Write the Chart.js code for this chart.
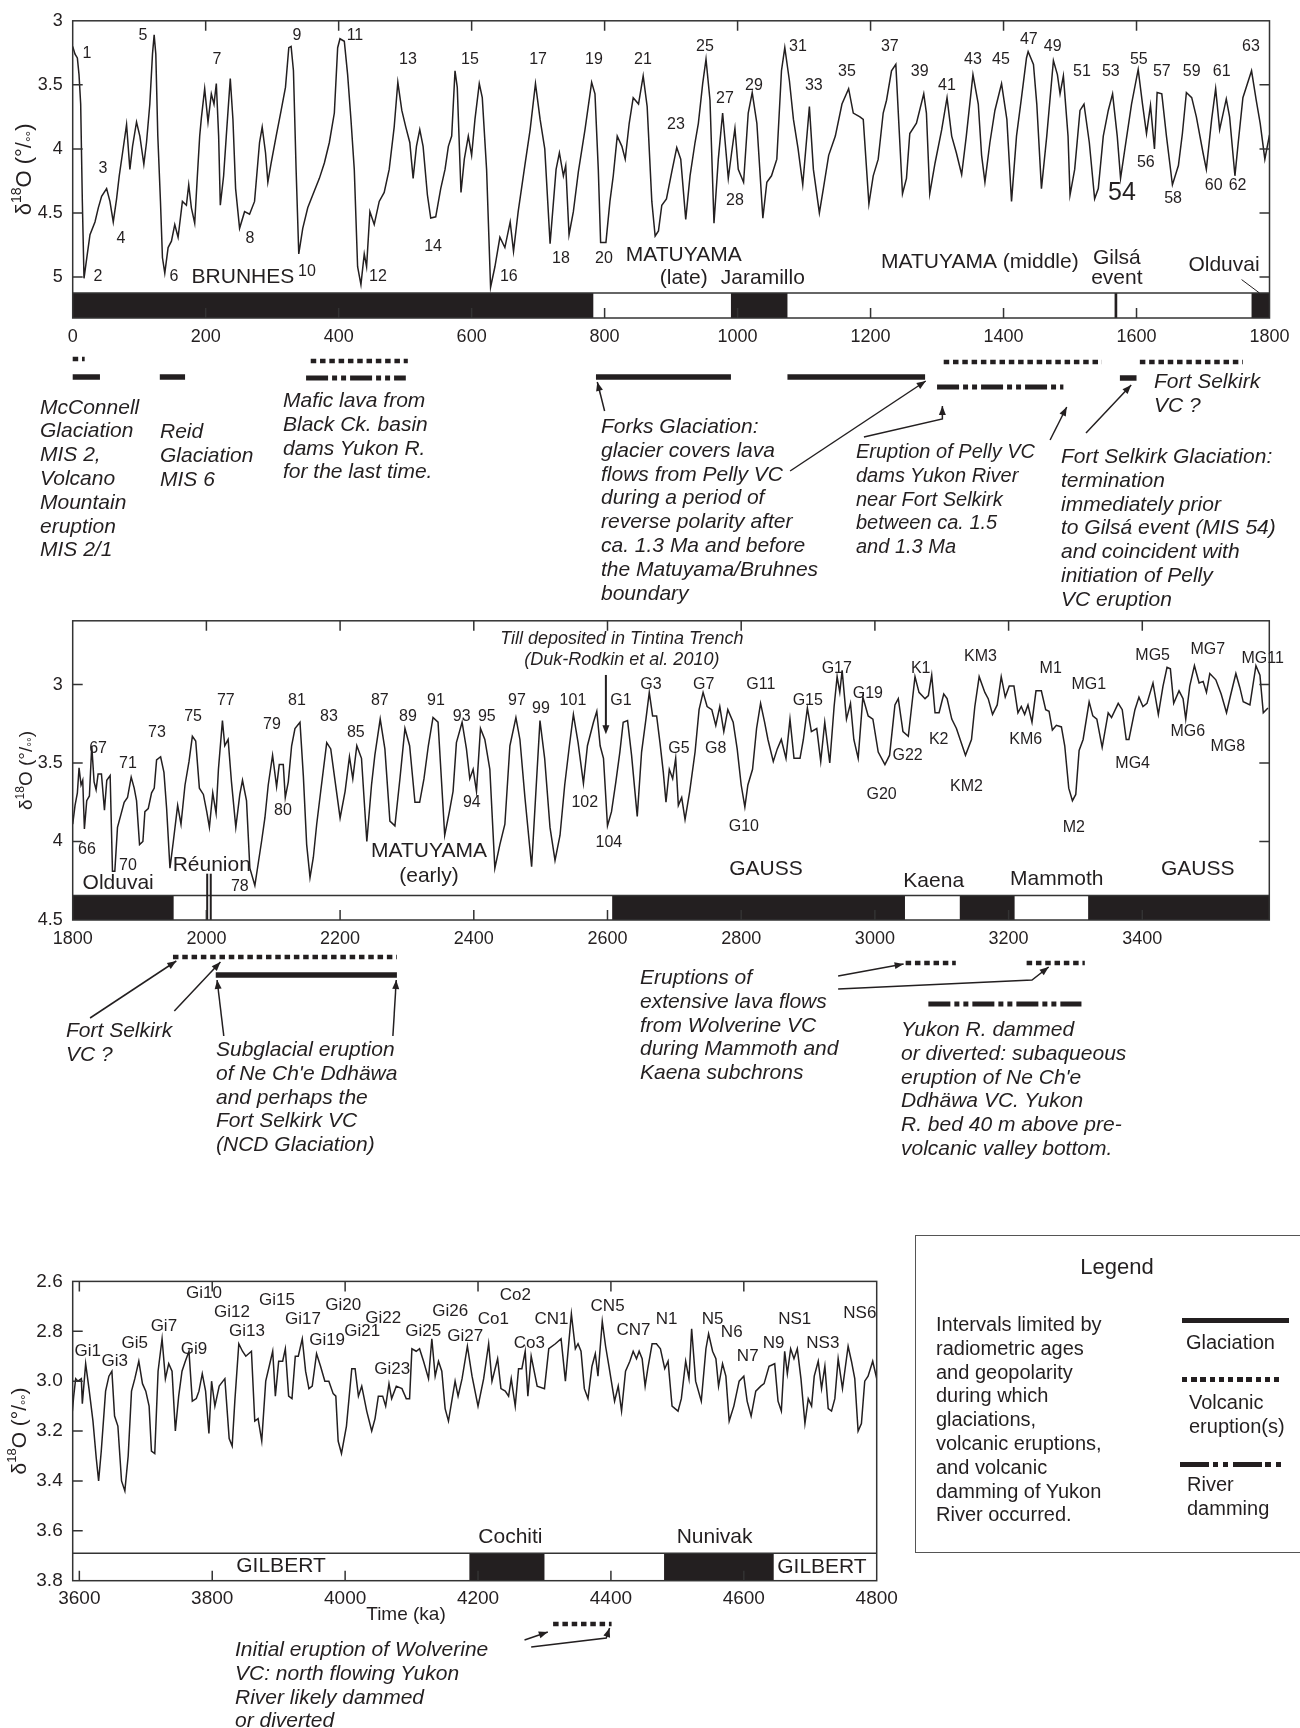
<!DOCTYPE html>
<html>
<head>
<meta charset="utf-8">
<title>δ18O stack with Yukon glaciations, eruptions and river damming</title>
<script src="https://cdn.jsdelivr.net/npm/chart.js@4.4.1/dist/chart.umd.min.js"></script>
<style>
  html, body { margin: 0; padding: 0; background: #fff; }
  #page { position: relative; width: 1300px; height: 1728px; overflow: hidden; font-family: "Liberation Sans", Arial, sans-serif; color: #231f20; }
  canvas { position: absolute; left: 0; }
  .note { position: absolute; font-style: italic; font-size: 21px; line-height: 23.8px; white-space: nowrap; }
  #legend { position: absolute; left: 915px; top: 1235px; width: 404px; height: 318px; border: 1.5px solid #555; box-sizing: border-box; font-size: 20px; line-height: 23.8px; }
  #legend div { position: absolute; white-space: nowrap; }
  .lg-title { left: 0; width: 402px; top: 19px; text-align: center; font-size: 22px; line-height: 24px; }
  .glac { height: 5px; background: #231f20; }
  .volc { height: 4.5px; background: repeating-linear-gradient(to right, #231f20 0 5.5px, transparent 5.5px 9.2px); }
  .dam { height: 5px; background: repeating-linear-gradient(to right, #231f20 0 29px, transparent 29px 33px, #231f20 33px 38px, transparent 38px 43px, #231f20 43px 48px, transparent 48px 52.5px); }
</style>
</head>
<body>
<div id="page">
  <canvas id="c1" width="1300" height="600" style="top:0"></canvas>
  <canvas id="c2" width="1300" height="500" style="top:600px"></canvas>
  <canvas id="c3" width="1300" height="468" style="top:1260px"></canvas>
  <div id="legend">
    <div class="lg-title">Legend</div>
    <div style="left:20px; top:77px">Intervals limited by<br>radiometric ages<br>and geopolarity<br>during which<br>glaciations,<br>volcanic eruptions,<br>and volcanic<br>damming of Yukon<br>River occurred.</div>
    <div class="glac" style="left:266px; top:82px; width:107px"></div>
    <div style="left:270px; top:95px">Glaciation</div>
    <div class="volc" style="left:266px; top:141px; width:99px"></div>
    <div style="left:273px; top:155px">Volcanic<br>eruption(s)</div>
    <div class="dam" style="left:264px; top:226px; width:101px"></div>
    <div style="left:271px; top:237px">River<br>damming</div>
  </div>
</div>
<script>
// ---- data: age (ka) and benthic δ18O (‰) ----
const p1Age = [0,3.5,7,9.5,12,14.5,17,22,26,33.5,38.5,43.5,51,56,61,66,70,75,81,86,90,96,101,107,111,116,120,122.5,125,128,132,135,138.5,143.5,148.5,153.5,158.5,165,171,174.5,178.5,183.5,187.5,191,193.5,198.5,203.5,208.5,212.5,216,219.5,222,227,231,237,241,245,251,258.5,266,273.5,281,285,290,293.5,298.5,306,313.5,320,325,328.5,332,336,340,346,353.5,361,371,378.5,386,393.5,398.5,402,408.5,413.5,418.5,423.5,428.5,433.5,438.5,442,447,453.5,461,468.5,476,483.5,489,495,501,507,512,517,522,527,533.5,538.5,546,553.5,560,565,570,575,578.4,584,589,595,600,605,611.5,616,622.5,628.5,635,642.5,650,658,663,670,680,688,696,703,710,718,727,732,738,741.5,746.5,753,760.5,770.5,780.5,785.5,790.5,794,802,808,813,819,826,831,837,843,851,858,864,871,876,881,886,893,901,908.5,914.5,922,928.5,936,941,947.5,952.5,958.5,964.5,971,977.5,986,991,996,1001,1009,1016,1022,1029,1038,1044,1051,1059,1066,1071,1078,1084,1091,1098,1108,1114,1123,1129,1137,1147,1157,1167,1174,1184,1189,1197.5,1204,1211.5,1219,1224,1231.5,1238,1243,1248,1254,1259,1269,1280,1284,1289,1297,1307,1315,1322,1329,1337,1344,1354,1362,1367,1372,1379.5,1387,1397,1405,1412,1419.5,1427,1434.5,1437,1445,1450,1457,1465,1475,1481,1485,1490,1497,1500,1507,1515,1521,1529,1537,1542.5,1550,1557.5,1564,1571,1576,1582.5,1592.5,1602.5,1609,1615,1621,1627,1631,1638,1645,1654,1663,1669,1675,1683,1690,1700,1705,1713,1719,1725,1735,1740,1748,1753,1760,1773,1780,1786,1793,1800];
const p1D18O = [3.20,3.26,3.29,3.42,3.65,4.41,5.01,4.82,4.67,4.57,4.46,4.37,4.31,4.41,4.57,4.39,4.21,4.03,3.81,4.16,3.98,3.79,3.90,4.12,3.95,3.65,3.26,3.11,3.26,3.90,4.41,4.85,4.97,4.77,4.72,4.59,4.69,4.41,4.44,4.28,4.46,4.58,4.21,3.90,3.76,3.53,3.79,3.57,3.65,3.49,3.90,4.44,4.21,3.90,3.45,3.77,4.31,4.62,4.49,4.51,4.41,3.95,3.83,4.03,4.26,4.11,3.90,3.70,3.52,3.21,3.20,3.39,4.16,4.82,4.62,4.46,4.36,4.23,4.11,3.95,3.72,3.21,3.14,3.16,3.42,3.77,4.16,4.92,5.06,4.82,4.92,4.49,4.59,4.41,4.34,4.16,3.83,3.48,3.70,3.83,3.95,4.23,3.98,3.85,3.98,4.36,4.54,4.53,4.31,4.16,3.98,3.90,3.39,3.52,4.34,4.08,3.90,4.05,3.77,3.49,3.60,4.16,5.08,4.92,4.69,4.77,4.57,4.80,4.49,4.13,3.85,3.49,3.77,4.00,4.74,4.16,4.03,4.21,4.13,4.67,4.49,4.18,3.85,3.48,3.57,4.16,4.73,4.73,4.41,4.21,3.90,3.98,4.08,3.80,3.60,3.65,3.43,3.67,4.41,4.68,4.64,4.44,4.39,4.18,3.99,4.08,4.55,4.21,3.95,3.80,3.49,3.30,3.62,4.58,4.08,3.72,4.23,4.03,3.84,4.16,4.26,3.72,3.56,3.80,4.54,4.26,4.21,4.08,3.39,3.21,3.47,3.77,4.00,4.28,3.67,4.16,4.50,4.31,4.05,3.90,3.65,3.53,3.72,3.75,3.77,4.43,4.21,4.08,3.72,3.62,3.39,3.34,3.85,4.35,4.23,3.88,3.80,3.57,3.72,4.35,4.11,3.85,3.60,3.90,4.03,4.20,3.90,3.42,3.65,4.05,4.26,3.95,3.70,3.49,3.77,4.41,3.90,3.60,3.29,3.24,3.34,3.65,4.31,3.90,3.31,3.42,3.57,3.43,3.90,4.36,4.16,3.70,3.65,3.95,4.39,4.31,3.90,3.70,3.57,3.90,4.23,4.00,3.65,3.38,3.65,3.88,3.66,4.00,3.56,3.57,3.90,4.28,4.13,3.88,3.56,3.60,3.75,4.03,4.16,3.77,3.53,3.85,3.61,3.75,4.21,3.95,3.60,3.39,3.62,3.80,4.08,3.89];

const p2Age = [1800,1803.5,1807,1809.5,1812.5,1815,1817.5,1821,1825,1828.5,1832,1835,1838,1843,1847.5,1851,1856,1859.5,1863,1867,1872,1877,1882,1887.5,1892,1895.5,1900,1905,1908,1913,1918,1922,1925.5,1931.5,1936.5,1940.5,1945.5,1950.5,1957,1962,1968,1974,1979,1984,1989.5,1995.5,2000.5,2004.5,2009.5,2014.5,2018,2024,2027.5,2032.5,2037.5,2044,2050,2054,2060,2065,2072.5,2077.5,2082.5,2087.5,2092.5,2099,2105,2109,2115,2118,2122.5,2127.5,2132.5,2140,2145,2150,2155,2160,2165,2171,2180,2186,2192,2200,2207.5,2214,2219,2225,2232,2240,2247,2252,2260,2267,2274.5,2282,2289.5,2297,2304,2312,2319,2325.5,2332,2339,2346.5,2356.5,2363.5,2369,2374,2382.5,2389,2394,2399,2404,2410,2416.5,2424,2431.5,2439,2446.5,2454,2463,2469,2476.5,2486.5,2494,2499,2506,2514,2521.5,2529,2536,2543,2549,2556,2564,2570,2579,2584,2589,2594,2600,2606,2612.5,2618.5,2623.5,2630,2636,2644.5,2651,2657.5,2662.5,2667.5,2673.5,2678.5,2683.5,2687.5,2692.5,2697.5,2702,2706,2711,2716,2723,2731,2737,2743,2749,2756,2762,2768,2774,2780,2788,2794,2800,2805.5,2810,2817,2823,2829,2835,2840,2848,2854,2860,2867,2873,2879,2888,2893,2899,2905,2913,2919,2925,2932.5,2939,2943.5,2947.5,2951,2957.5,2963.5,2968.5,2975,2982,2990,2997,3005,3015,3022,3030,3035,3042,3050,3055,3060,3066,3075,3080,3085,3090,3096,3103,3108,3115,3122,3135.5,3144.5,3149.5,3156,3164.5,3169.5,3176,3183,3189,3195,3201,3208,3214,3219,3224,3229,3235,3241,3249,3255.5,3260.5,3265.5,3271.5,3279,3284,3290,3295.5,3300.5,3305.5,3311.5,3320.5,3326,3332,3340,3349,3354,3364,3370,3376,3380,3389,3395,3401,3407,3416,3424,3431,3437,3442,3447,3455,3461,3465,3471,3478,3485,3491,3496,3501,3510,3518,3526,3532,3540,3546,3551,3561,3570,3576,3581,3588];
const p2D18O = [3.89,3.77,3.69,3.53,3.64,3.61,3.92,3.74,3.71,3.39,3.62,3.67,3.57,3.57,3.80,3.61,3.58,4.19,4.19,3.91,3.83,3.75,3.72,3.59,3.66,3.74,4.02,4.00,3.81,3.79,3.69,3.66,3.48,3.46,3.56,3.79,4.17,4.00,3.77,3.89,3.64,3.49,3.33,3.36,3.66,3.70,3.81,3.91,3.69,3.82,3.54,3.23,3.39,3.35,3.62,3.91,3.70,3.61,3.74,4.17,4.28,4.14,4.00,3.85,3.64,3.45,3.65,3.51,3.51,3.72,3.62,3.39,3.28,3.24,3.58,4.02,4.23,4.10,3.89,3.68,3.37,3.41,3.60,3.85,3.68,3.46,3.60,3.39,3.47,4.00,3.64,3.45,3.22,3.41,3.87,3.90,3.60,3.28,3.39,3.75,3.75,3.60,3.39,3.21,3.24,3.96,3.81,3.68,3.37,3.24,3.41,3.60,3.54,3.68,3.28,3.35,3.54,4.17,4.02,3.89,3.39,3.21,3.35,3.72,4.16,3.60,3.23,3.47,3.91,4.12,3.96,3.64,3.39,3.19,3.37,3.63,3.39,3.24,3.17,3.39,3.47,3.90,3.81,3.62,3.43,3.24,3.23,3.45,3.84,3.43,3.22,3.05,3.20,3.20,3.37,3.56,3.75,3.54,3.60,3.47,3.77,3.72,3.86,3.68,3.43,3.16,3.05,3.14,3.16,3.26,3.14,3.30,3.16,3.24,3.41,3.64,3.78,3.64,3.54,3.28,3.12,3.24,3.35,3.49,3.41,3.35,3.47,3.22,3.47,3.47,3.35,3.15,3.30,3.28,3.49,3.24,3.50,3.14,2.95,3.05,2.91,3.22,3.12,3.35,3.47,3.08,3.20,3.22,3.43,3.51,3.45,3.13,3.09,3.30,3.33,3.14,2.95,3.05,3.09,3.07,2.94,3.18,3.18,3.06,3.09,3.22,3.28,3.45,3.35,3.14,2.95,3.05,3.09,3.19,3.13,2.95,3.08,3.01,3.01,3.18,3.14,3.19,3.13,3.24,3.04,3.04,3.16,3.17,3.29,3.26,3.27,3.39,3.66,3.74,3.70,3.42,3.35,3.11,3.20,3.22,3.40,3.18,3.21,3.12,3.16,3.35,3.35,3.16,3.08,3.14,3.12,2.99,3.19,3.01,2.89,2.90,3.12,3.04,3.09,3.22,3.01,2.88,2.99,2.98,3.05,2.93,2.97,3.06,3.18,3.07,2.93,3.02,3.11,3.13,2.88,2.94,3.18,3.15];

const p3Age = [3589.5,3591.5,3594.5,3598,3603,3604.5,3609.5,3614.5,3620.5,3625.5,3629,3633,3639.5,3644.5,3649,3653,3658,3663.5,3668.5,3673.5,3678.5,3683.5,3689.5,3695,3700,3705,3708.5,3713.5,3718.5,3724.5,3729.5,3734.5,3739.5,3744.5,3749.5,3754.5,3759.5,3765,3770,3776,3780,3785,3790,3795,3799,3804,3810.5,3819,3825.5,3830,3834,3840,3845.5,3850.5,3859,3864,3869,3874.5,3880.5,3891,3895,3900,3906,3910,3915,3920,3925,3929.5,3935.5,3940.5,3945.5,3950.5,3957,3963,3969.5,3975.5,3982,3986,3989.5,3994.5,4002,4010,4015,4020,4025,4032.5,4040,4045,4050,4056.5,4061,4066,4070,4077,4085.5,4092,4097,4100.5,4107,4112,4118,4125.5,4130.5,4135.5,4140.5,4145.5,4150.5,4155.5,4165.5,4170,4176,4184,4191,4200,4208.5,4216,4221,4229.5,4234.5,4241,4246,4250,4256,4261,4266,4271,4275,4280,4289,4300,4306.5,4316.5,4325,4331.5,4340.5,4346.5,4350.5,4355,4360,4365.5,4371.5,4376.5,4380.5,4387,4392,4397,4405.5,4411,4416,4422,4428.5,4433.5,4438.5,4442.5,4447,4451.5,4455.5,4462,4468.5,4474.5,4481,4486,4492,4501,4506,4512.5,4517.5,4521.5,4527.5,4536,4543,4547,4553,4558,4562,4568,4573,4578,4585,4593,4600,4605,4611,4618,4625.5,4630.5,4638,4646.5,4651.5,4656.5,4661.5,4665.5,4670.5,4675.5,4680.5,4686,4692,4697,4702,4706,4712,4717,4722,4727,4732,4737,4742,4748.5,4757,4762,4767,4772,4777,4782,4787,4794,4800];
const p3D18O = [3.12,3.06,2.99,3.00,2.99,3.09,2.93,3.03,3.16,3.31,3.40,3.28,3.04,2.98,2.96,3.14,3.18,3.40,3.44,3.30,3.04,2.99,2.92,3.01,3.04,3.10,3.28,3.29,2.96,2.83,2.99,2.93,2.96,3.20,3.06,2.96,2.92,2.88,3.08,3.07,3.04,2.97,3.04,3.21,3.00,3.10,3.02,2.99,3.23,3.26,3.08,2.85,2.88,2.90,2.88,3.16,3.15,3.24,3.00,2.88,3.06,2.92,2.92,2.87,3.06,3.07,2.90,2.90,2.83,2.96,3.03,3.02,2.89,2.94,3.00,3.00,3.05,3.06,3.24,3.29,3.18,2.95,2.95,3.06,3.02,3.12,3.20,3.15,3.06,3.06,3.10,3.01,3.07,3.02,3.03,3.07,3.07,2.87,2.88,2.87,2.92,2.99,2.83,2.98,2.92,2.96,3.11,3.16,3.00,3.06,2.99,2.86,2.98,3.10,2.99,2.85,3.00,2.91,3.03,3.04,3.06,2.99,3.10,2.95,2.95,2.88,3.06,2.90,3.02,3.03,2.87,2.85,2.83,3.00,2.73,2.87,2.85,2.88,3.03,3.07,2.94,2.89,2.98,2.76,2.86,2.94,3.08,3.02,3.12,2.96,2.92,2.88,2.91,2.88,2.91,3.02,2.95,2.85,2.85,2.87,2.95,2.92,3.10,3.12,3.07,2.92,2.99,2.79,3.00,3.08,2.87,2.81,2.88,2.91,3.02,2.93,2.98,3.16,3.10,3.00,2.98,3.08,3.14,3.04,3.02,3.01,2.94,2.93,3.08,3.12,2.88,2.97,2.87,2.91,2.87,2.99,3.17,3.07,3.10,2.98,2.92,3.03,2.94,3.11,3.12,3.07,2.91,3.03,2.86,2.92,2.99,3.20,3.17,3.00,2.98,2.92,2.99];

// normal-polarity (black) intervals, ka
const p1Normal = [[0, 783], [990, 1075], [1567, 1571], [1773, 1800]];
const p2Normal = [[1800, 1951], [2607, 3045], [3127, 3209], [3319, 3590]];
const p2Reunion = [2001.2, 2006.5];
const p3Normal = [[4187, 4300], [4480, 4645]];

// glaciation / eruption / damming intervals: [kind, from ka, to ka]
const p1Events = [['volc', 0, 18], ['glac', 0, 41], ['glac', 131, 169], ['volc', 358, 504], ['dam', 351, 501],
  ['glac', 787, 990], ['glac', 1075, 1282], ['volc', 1310, 1548], ['dam', 1300, 1490], ['glac', 1575, 1600], ['volc', 1605, 1760]];
const p2Events = [['volc', 1950, 2285], ['glac', 2014, 2285], ['volc', 3046, 3121], ['volc', 3227, 3314], ['dam', 3080, 3309]];
const p3Events = [['volc', 4313, 4401]];

// stage labels: [text, ka, δ18O]
const p1Stages = [['1',21.5,3.255],['2',38,5.0],['3',45.6,4.15],['4',72.6,4.70],['5',105.7,3.117],['6',152.3,5.0],['7',217,3.30],['8',266.6,4.70],['9',337.3,3.117],['10',352.3,4.96],['11',424.5,3.117],['12',459,5.0],['13',504.2,3.30],['14',542,4.765],['15',597.4,3.30],['16',656,5.0],['17',700,3.30],['18',734.3,4.857],['19',784,3.30],['20',799,4.857],['21',857.6,3.30],['23',907.2,3.807],['25',951,3.20],['27',981,3.608],['28',996,4.405],['29',1024.5,3.508],['31',1090.7,3.20],['33',1114.7,3.508],['35',1164.4,3.40],['37',1229,3.20],['39',1274,3.40],['41',1314.8,3.508],['43',1354,3.30],['45',1396,3.30],['47',1438,3.148],['49',1474,3.20],['51',1518,3.40],['53',1561.4,3.40],['55',1603.5,3.30],['57',1638,3.40],['59',1683,3.40],['61',1728,3.40],['63',1772,3.20],['56',1614,4.106],['58',1655,4.39],['60',1716,4.283],['62',1752,4.283]];
const p1Big = [['54', 1578, 4.345]];
const p1Names = [['BRUNHES',256,5.0],['MATUYAMA',919,4.826],['(late)',919,5.01],['Jaramillo',1038,5.01],['MATUYAMA (middle)',1364.4,4.887],['Gilsá',1570.4,4.85],['event',1570.4,5.01],['Olduvai',1731.6,4.91]];

const p2Stages = [['67',1838,3.405],['66',1821.4,4.054],['70',1882.7,4.154],['71',1882.7,3.506],['73',1926,3.304],['75',1980,3.204],['77',2029,3.103],['78',2050,4.287],['79',2098,3.254],['80',2114.5,3.802],['81',2135.4,3.103],['83',2183.3,3.204],['85',2223.6,3.304],['87',2259.5,3.103],['89',2301.4,3.204],['91',2343.3,3.103],['93',2382,3.204],['95',2419.5,3.204],['94',2397,3.752],['97',2464.5,3.103],['99',2500.4,3.153],['101',2548.3,3.103],['102',2566,3.752],['104',2602,4.004],['G1',2620,3.103],['G3',2665,3.002],['G5',2707,3.405],['G7',2744,3.002],['G8',2762,3.405],['G10',2804,3.903],['G11',2829.3,3.002],['G15',2899.6,3.103],['G17',2943,2.901],['G19',2989.4,3.059],['G22',3049,3.45],['G20',3010,3.70],['K1',3068.5,2.901],['K2',3095.4,3.348],['KM3',3158,2.825],['KM2',3137,3.651],['KM6',3225.6,3.348],['M1',3263,2.901],['MG1',3320,3.002],['M2',3297.5,3.909],['MG4',3385.6,3.506],['MG5',3415.5,2.813],['MG6',3468,3.298],['MG7',3498,2.775],['MG8',3528,3.393],['MG11',3580,2.832]];
const p2Names = [['Olduvai',1868,4.268],['Réunion',2008,4.148],['MATUYAMA',2333,4.06],['(early)',2333,4.218],['GAUSS',2837,4.174],['Kaena',3088,4.255],['Mammoth',3272,4.243],['GAUSS',3483,4.174]];
const p2Till = [['Till deposited in Tintina Trench',2621.5,2.713],['(Duk-Rodkin et al. 2010)',2621.5,2.845]];

const p3Stages = [['Gi1',3612.7,2.881],['Gi3',3653.4,2.921],['Gi5',3683.5,2.849],['Gi7',3727.2,2.782],['Gi9',3772.4,2.873],['Gi10',3787.5,2.647],['Gi12',3829.7,2.722],['Gi13',3852.3,2.802],['Gi15',3897.5,2.674],['Gi17',3936.7,2.75],['Gi19',3972.9,2.837],['Gi20',3997,2.694],['Gi21',4025.6,2.802],['Gi22',4057.3,2.746],['Gi23',4070.8,2.953],['Gi25',4117.5,2.802],['Gi26',4158.2,2.718],['Gi27',4180.8,2.821],['Co1',4223,2.754],['Co2',4256.2,2.655],['Co3',4277.3,2.849],['CN1',4310.5,2.754],['CN5',4395,2.698],['CN7',4434,2.798],['N1',4483.8,2.754],['N5',4553.1,2.754],['N6',4581.8,2.806],['N7',4605.9,2.901],['N9',4645,2.849],['NS1',4676.7,2.754],['NS3',4718.9,2.849],['NS6',4774.6,2.726]];
const p3Names = [['GILBERT',3903.5,3.74],['Cochiti',4248.7,3.625],['Nunivak',4556,3.625],['GILBERT',4717.6,3.744]];

const p1XTicks = [0, 200, 400, 600, 800, 1000, 1200, 1400, 1600, 1800];
const p2XTicks = [1800, 2000, 2200, 2400, 2600, 2800, 3000, 3200, 3400];
const p3XTicks = [3600, 3800, 4000, 4200, 4400, 4600, 4800];
const p1YTicks = [3, 3.5, 4, 4.5, 5];
const p2YTicks = [3, 3.5, 4, 4.5];
const p3YTicks = [2.6, 2.8, 3.0, 3.2, 3.4, 3.6, 3.8];

// ---- layout (page pixels) ----
const INK = '#231f20';
const FRAME = '#333';
const FONT = '"Liberation Sans", Arial, sans-serif';

const p1Rows = [359, 377, 377, 361, 378, 377, 377, 362, 387, 378, 362];
const p2Rows = [957, 975, 963, 963, 1004];
const p3Rows = [1624];

const p1Arrows = [[[800, 411], [789, 382]], [[1079, 471], [1283, 381]], [[1190, 437], [1308, 419], [1308, 406]],
  [[1470, 440], [1495, 407]], [[1524, 433], [1592, 385]]];
const p2Arrows = [[[1826, 1018], [1955, 961]], [[1952, 1011], [2021, 962]], [[2026, 1036], [2016, 980]], [[2279, 1036], [2284, 980]],
  [[2945, 976], [3043, 964]], [[2945, 989], [3235, 980], [3260, 967]]];
const p3Arrows = [[[4270, 1640], [4305, 1632]], [[4280, 1647], [4393, 1638], [4398, 1628]]];

const notes = [
  [40, 406.5, ['McConnell', 'Glaciation', 'MIS 2,', 'Volcano', 'Mountain', 'eruption', 'MIS 2/1']],
  [160, 431, ['Reid', 'Glaciation', 'MIS 6']],
  [283, 400, ['Mafic lava from', 'Black Ck. basin', 'dams Yukon R.', 'for the last time.']],
  [601, 426, ['Forks Glaciation:', 'glacier covers lava', 'flows from Pelly VC', 'during a period of', 'reverse polarity after', 'ca. 1.3 Ma and before', 'the Matuyama/Bruhnes', 'boundary']],
  [856, 452, ['Eruption of Pelly VC', 'dams Yukon River', 'near Fort Selkirk', 'between ca. 1.5', 'and 1.3 Ma'], 20],
  [1061, 456, ['Fort Selkirk Glaciation:', 'termination', 'immediately prior', 'to Gilsá event (MIS 54)', 'and coincident with', 'initiation of Pelly', 'VC eruption']],
  [1154, 381, ['Fort Selkirk', 'VC ?']],
  [66, 1030, ['Fort Selkirk', 'VC ?']],
  [216, 1049, ['Subglacial eruption', "of Ne Ch'e Ddhäwa", 'and perhaps the', 'Fort Selkirk VC', '(NCD Glaciation)']],
  [640, 977, ['Eruptions of', 'extensive lava flows', 'from Wolverine VC', 'during Mammoth and', 'Kaena subchrons']],
  [901, 1029, ['Yukon R. dammed', 'or diverted: subaqueous', "eruption of Ne Ch'e", 'Ddhäwa VC. Yukon', 'R. bed 40 m above pre-', 'volcanic valley bottom.']],
  [235, 1649, ['Initial eruption of Wolverine', 'VC: north flowing Yukon', 'River likely dammed', 'or diverted']]
];

const STROKES = {
  glac: { w: 5.5, dash: [] },
  volc: { w: 4.5, dash: [5.5, 3.8] },
  dam: { w: 5, dash: [22, 4, 5, 4, 5, 4] }
};

notes.forEach(([left, y, lines, size]) => {
  const d = document.createElement('div');
  d.className = 'note';
  d.style.left = left + 'px';
  d.style.top = (y - 11.9) + 'px';
  if (size) d.style.fontSize = size + 'px';
  d.innerHTML = lines.join('<br>');
  document.getElementById('page').appendChild(d);
});

function arrowHead(ctx, x0, y0, x1, y1) {
  const a = Math.atan2(y1 - y0, x1 - x0), L = 9, W = 3.5;
  ctx.beginPath();
  ctx.moveTo(x1, y1);
  ctx.lineTo(x1 - L * Math.cos(a) + W * Math.sin(a), y1 - L * Math.sin(a) - W * Math.cos(a));
  ctx.lineTo(x1 - L * Math.cos(a) - W * Math.sin(a), y1 - L * Math.sin(a) + W * Math.cos(a));
  ctx.closePath();
  ctx.fill();
}

function drawYTitle(ctx, cx, cy, size) {
  const big = size + 'px ' + FONT, small = Math.round(size * 0.62) + 'px ' + FONT;
  const parts = [['δ', big, 0], ['18', small, -size * 0.35], ['O (', big, 0], ['°', big, 0], ['/', big, 0], ['°°', small, size * 0.32], [')', big, 0]];
  ctx.save();
  ctx.translate(cx, cy);
  ctx.rotate(-Math.PI / 2);
  ctx.fillStyle = INK;
  ctx.textAlign = 'left';
  ctx.textBaseline = 'middle';
  let total = 0;
  parts.forEach(p => { ctx.font = p[1]; total += ctx.measureText(p[0]).width; });
  let x = -total / 2;
  parts.forEach(p => { ctx.font = p[1]; ctx.fillText(p[0], x, p[2]); x += ctx.measureText(p[0]).width; });
  ctx.restore();
}

function panelPlugin(p) {
  return {
    id: 'panel',
    afterDatasetsDraw(chart) {
      const { ctx, chartArea: a } = chart;
      const px = (v) => chart.scales.x.getPixelForValue(v);
      const py = (v) => chart.scales.y.getPixelForValue(v);
      ctx.save();

      // polarity bar
      const barY = py(p.barTop);
      ctx.fillStyle = '#fff';
      ctx.fillRect(a.left, barY, a.right - a.left, a.bottom - barY);
      ctx.fillStyle = INK;
      p.normal.forEach(([s, e]) => ctx.fillRect(px(s), barY, px(e) - px(s), a.bottom - barY));
      ctx.strokeStyle = FRAME;
      ctx.lineWidth = 1.5;
      ctx.beginPath();
      ctx.moveTo(a.left, barY);
      ctx.lineTo(a.right, barY);
      ctx.stroke();
      (p.spikes || []).forEach(v => {
        ctx.strokeStyle = INK;
        ctx.lineWidth = 2;
        ctx.beginPath();
        ctx.moveTo(px(v), py(p.spikeTop));
        ctx.lineTo(px(v), a.bottom);
        ctx.stroke();
      });

      // frame and inward ticks
      ctx.strokeStyle = FRAME;
      ctx.lineWidth = 1.5;
      ctx.strokeRect(a.left, a.top, a.right - a.left, a.bottom - a.top);
      ctx.beginPath();
      p.xTicks.forEach(v => {
        if (v <= p.xMin || v >= p.xMax) return;
        const X = px(v);
        ctx.moveTo(X, a.top); ctx.lineTo(X, a.top + 10);
        ctx.moveTo(X, a.bottom); ctx.lineTo(X, a.bottom - 10);
      });
      p.yTicks.forEach(v => {
        if (v <= p.yMin || v >= p.yMax) return;
        const Y = py(v);
        ctx.moveTo(a.left, Y); ctx.lineTo(a.left + 10, Y);
        if (p.rightTicks) { ctx.moveTo(a.right, Y); ctx.lineTo(a.right - 10, Y); }
      });
      ctx.stroke();

      if (p.pointer) {
        ctx.lineWidth = 1;
        ctx.strokeStyle = INK;
        ctx.beginPath();
        ctx.moveTo(px(p.pointer[0][0]), py(p.pointer[0][1]));
        ctx.lineTo(px(p.pointer[1][0]), py(p.pointer[1][1]));
        ctx.stroke();
      }
      if (p.drop) {
        const X = px(p.drop[0]), y0 = py(p.drop[1]), y1 = py(p.drop[2]);
        ctx.strokeStyle = INK; ctx.fillStyle = INK; ctx.lineWidth = 2;
        ctx.beginPath(); ctx.moveTo(X, y0); ctx.lineTo(X, y1 - 6); ctx.stroke();
        arrowHead(ctx, X, y0, X, y1);
      }

      // labels
      ctx.fillStyle = INK;
      ctx.textAlign = 'center';
      ctx.textBaseline = 'middle';
      p.texts.forEach(([list, font]) => {
        ctx.font = font;
        list.forEach(([t, k, d]) => ctx.fillText(t, px(k), py(d)));
      });

      drawYTitle(ctx, p.titleX, (a.top + a.bottom) / 2, p.titleSize);
      if (p.xTitle) {
        ctx.font = '19px ' + FONT;
        ctx.fillText(p.xTitle[0], p.xTitle[1], p.xTitle[2] - p.top);
      }

      // event intervals below the axis
      p.events.forEach(([kind, from, to], i) => {
        const s = STROKES[kind];
        const Y = p.rows[i] - p.top;
        ctx.strokeStyle = INK;
        ctx.lineWidth = s.w;
        ctx.lineCap = 'butt';
        ctx.setLineDash(s.dash);
        ctx.beginPath();
        ctx.moveTo(px(from), Y);
        ctx.lineTo(px(to), Y);
        ctx.stroke();
      });
      ctx.setLineDash([]);

      ctx.strokeStyle = INK;
      ctx.fillStyle = INK;
      ctx.lineWidth = 1.5;
      p.arrows.forEach(pts => {
        const xy = pts.map(([k, Y]) => [px(k), Y - p.top]);
        ctx.beginPath();
        xy.forEach(([X, Y], i) => (i ? ctx.lineTo(X, Y) : ctx.moveTo(X, Y)));
        ctx.stroke();
        const n = xy.length;
        arrowHead(ctx, xy[n - 2][0], xy[n - 2][1], xy[n - 1][0], xy[n - 1][1]);
      });
      ctx.restore();
    }
  };
}

function makePanel(id, p) {
  return new Chart(document.getElementById(id), {
    type: 'line',
    data: {
      datasets: [{
        data: p.age.map((k, i) => ({ x: k, y: p.d18o[i] })),
        borderColor: INK,
        borderWidth: 1.5,
        pointRadius: 0,
        tension: 0,
        fill: false
      }]
    },
    options: {
      responsive: false,
      animation: false,
      devicePixelRatio: 1,
      events: [],
      layout: { padding: p.padding },
      plugins: { legend: { display: false }, tooltip: { enabled: false } },
      scales: {
        x: {
          type: 'linear', min: p.xMin, max: p.xMax,
          grid: { display: false, drawTicks: false }, border: { display: false },
          ticks: { color: INK, font: { family: FONT, size: p.tickSize }, padding: p.xPad, autoSkip: false, maxRotation: 0, callback: (v) => String(v) },
          afterBuildTicks: (s) => { s.ticks = p.xTicks.map(v => ({ value: v })); },
          afterFit: (s) => { s.height = 34; }
        },
        y: {
          type: 'linear', reverse: true, min: p.yMin, max: p.yMax,
          grid: { display: false, drawTicks: false }, border: { display: false },
          ticks: { color: INK, font: { family: FONT, size: p.tickSize }, padding: 10, autoSkip: false, callback: p.yFmt },
          afterBuildTicks: (s) => { s.ticks = p.yTicks.map(v => ({ value: v })); },
          afterFit: (s) => { s.width = 72.7; }
        }
      }
    },
    plugins: [panelPlugin(p)]
  });
}

makePanel('c1', {
  top: 0, age: p1Age, d18o: p1D18O,
  padding: { top: 15.7, right: 30.5, bottom: 248, left: 0 },
  xMin: 0, xMax: 1800, xTicks: p1XTicks, yMin: 3, yMax: 5.32, yTicks: p1YTicks,
  yFmt: (v) => String(v), tickSize: 18, xPad: 8,
  barTop: 5.125, normal: p1Normal, rightTicks: true,
  pointer: [[1758, 5.02], [1785, 5.125]],
  texts: [[p1Stages, '16px ' + FONT], [p1Big, '25px ' + FONT], [p1Names, '21px ' + FONT]],
  titleX: 25, titleSize: 22,
  events: p1Events, rows: p1Rows, arrows: p1Arrows
});

makePanel('c2', {
  top: 600, age: p2Age, d18o: p2D18O,
  padding: { top: 17.3, right: 30.7, bottom: 146, left: 0 },
  xMin: 1800, xMax: 3590, xTicks: p2XTicks, yMin: 2.594, yMax: 4.5, yTicks: p2YTicks,
  yFmt: (v) => String(v), tickSize: 18, xPad: 8,
  barTop: 4.344, normal: p2Normal, spikes: p2Reunion, spikeTop: 4.205, rightTicks: true,
  drop: [2597.6, 2.939, 3.317],
  texts: [[p2Stages, '16px ' + FONT], [p2Names, '21px ' + FONT], [p2Till, 'italic 18px ' + FONT]],
  titleX: 27, titleSize: 19,
  events: p2Events, rows: p2Rows, arrows: p2Arrows
});

makePanel('c3', {
  top: 1260, age: p3Age, d18o: p3D18O,
  padding: { top: 18.3, right: 423.3, bottom: 113.3, left: 0 },
  xMin: 3590, xMax: 4800, xTicks: p3XTicks, yMin: 2.6, yMax: 3.8, yTicks: p3YTicks,
  yFmt: (v) => v.toFixed(1), tickSize: 19, xPad: 7,
  barTop: 3.69, normal: p3Normal, rightTicks: false,
  texts: [[p3Stages, '17px ' + FONT], [p3Names, '21px ' + FONT]],
  titleX: 20, titleSize: 21, xTitle: ['Time (ka)', 406, 1615],
  events: p3Events, rows: p3Rows, arrows: p3Arrows
});
</script>
</body>
</html>
